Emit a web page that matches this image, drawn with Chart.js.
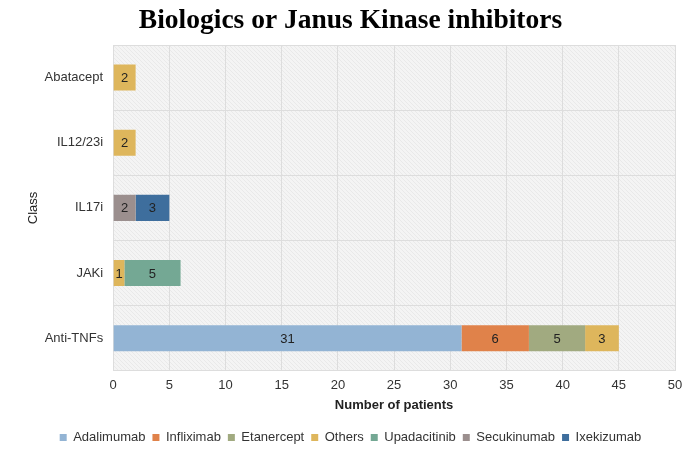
<!DOCTYPE html>
<html>
<head>
<meta charset="utf-8">
<script src="https://cdn.jsdelivr.net/npm/chart.js@4"></script>
<style>
html,body{margin:0;padding:0;background:#fff;}
#wrap{width:700px;height:449px;position:relative;}
</style>
</head>
<body>
<div id="wrap"><canvas id="c" width="700" height="449"></canvas></div>
<script>
const categories = ["Abatacept", "IL12/23i", "IL17i", "JAKi", "Anti-TNFs"];
const seriesNames = ["Adalimumab", "Infliximab", "Etanercept", "Others", "Upadacitinib", "Secukinumab", "Ixekizumab"];
const adalimumab   = [null, null, null, null, 31];
const infliximab   = [null, null, null, null, 6];
const etanercept   = [null, null, null, null, 5];
const others       = [2, 2, null, 1, 3];
const upadacitinib = [null, null, null, 5, null];
const secukinumab  = [null, null, 2, null, null];
const ixekizumab   = [null, null, 3, null, null];
const xTicks = [0, 5, 10, 15, 20, 25, 30, 35, 40, 45, 50];

const seriesValues = [adalimumab, infliximab, etanercept, others, upadacitinib, secukinumab, ixekizumab];
const colors = ["#93b4d4", "#e0824a", "#a1aa80", "#deb65c", "#74a894", "#9b8f8e", "#3e6e9d"];

function makePattern(ctx){
  const p = document.createElement('canvas');
  p.width = 4; p.height = 4;
  const g = p.getContext('2d');
  g.fillStyle = '#f4f4f4';
  g.fillRect(0,0,4,4);
  g.strokeStyle = '#e6e6e6';
  g.lineWidth = 0.8;
  g.beginPath();
  g.moveTo(0,0); g.lineTo(4,4);
  g.moveTo(-1,3); g.lineTo(1,5);
  g.moveTo(3,-1); g.lineTo(5,1);
  g.stroke();
  return ctx.createPattern(p, 'repeat');
}

const bgPlugin = {
  id: 'bg',
  beforeDraw(chart){
    const {ctx, chartArea:a} = chart;
    ctx.save();
    ctx.fillStyle = makePattern(ctx);
    ctx.fillRect(a.left, a.top, a.right-a.left, a.bottom-a.top);
    ctx.restore();
  }
};

const labelPlugin = {
  id: 'labels',
  afterDatasetsDraw(chart){
    const ctx = chart.ctx;
    ctx.save();
    ctx.font = '13px "Liberation Sans", Arial, sans-serif';
    ctx.fillStyle = '#222';
    ctx.textAlign = 'center';
    ctx.textBaseline = 'middle';
    chart.data.datasets.forEach((ds, i) => {
      const meta = chart.getDatasetMeta(i);
      meta.data.forEach((el, j) => {
        const v = ds.data[j];
        if (v == null) return;
        const cx = (el.x + el.base) / 2;
        ctx.fillText(String(v), cx, el.y + 1);
      });
    });
    ctx.restore();
  }
};

const datasets = seriesNames.map((n, i) => ({
  label: n,
  data: seriesValues[i],
  backgroundColor: colors[i],
  borderWidth: 0,
  categoryPercentage: 1.0,
  barPercentage: 0.4
}));

new Chart(document.getElementById('c'), {
  type: 'bar',
  data: { labels: categories, datasets },
  plugins: [bgPlugin, labelPlugin],
  options: {
    indexAxis: 'y',
    responsive: false,
    animation: false,
    layout: { padding: { left: 26, right: 25, top: 0, bottom: -5 } },
    plugins: {
      title: {
        display: true,
        text: 'Biologics or Janus Kinase inhibitors',
        font: { family: '"Liberation Serif", "Times New Roman", serif', size: 27.5, weight: 'bold' },
        color: '#000',
        padding: { top: 4, bottom: 8 }
      },
      legend: {
        position: 'bottom',
        labels: {
          boxWidth: 7, boxHeight: 7,
          font: { family: '"Liberation Sans", Arial, sans-serif', size: 13 },
          color: '#333',
          padding: 7
        }
      },
      tooltip: { enabled: false }
    },
    scales: {
      x: {
        stacked: true,
        min: 0, max: 50,
        afterBuildTicks(axis){ axis.ticks = xTicks.map(v => ({value: v})); },
        ticks: { font: { family: '"Liberation Sans", Arial, sans-serif', size: 13 }, color: '#333', padding: 7 },
        grid: { color: '#dddddd', drawTicks: false },
        border: { display: false },
        title: {
          display: true, text: 'Number of patients',
          font: { family: '"Liberation Sans", Arial, sans-serif', size: 13, weight: 'bold' },
          color: '#222', padding: { top: -3, bottom: 11 }
        }
      },
      y: {
        stacked: true,
        ticks: { font: { family: '"Liberation Sans", Arial, sans-serif', size: 13 }, color: '#333', padding: 10 },
        grid: { color: '#dddddd', drawTicks: false, offset: true },
        border: { display: false },
        title: {
          display: true, text: 'Class',
          font: { family: '"Liberation Sans", Arial, sans-serif', size: 13 },
          color: '#222', padding: { top: 0, bottom: -7 }
        }
      }
    }
  }
});
</script>
</body>
</html>
